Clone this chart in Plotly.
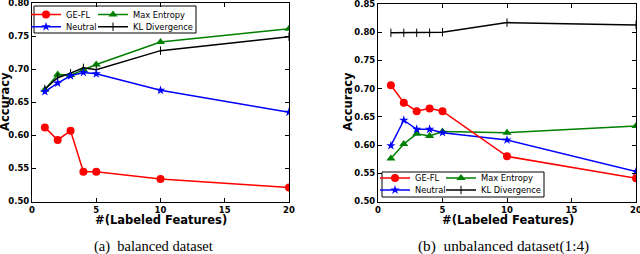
import plotly.graph_objects as go

# ---- data ----
x_vals = [1, 2, 3, 4, 5, 10, 20]

bal_gefl = [0.612, 0.593, 0.607, 0.545, 0.545, 0.534, 0.521]
bal_neutral = [0.666, 0.679, 0.690, 0.695, 0.693, 0.668, 0.635]
bal_maxent = [0.669, 0.692, 0.691, 0.699, 0.707, 0.741, 0.761]
bal_kl = [0.670, 0.687, 0.694, 0.702, 0.699, 0.728, 0.749]

unb_gefl = [0.706, 0.675, 0.660, 0.665, 0.660, 0.580, 0.541]
unb_neutral = [0.599, 0.644, 0.628, 0.628, 0.622, 0.609, 0.553]
unb_maxent = [0.576, 0.602, 0.620, 0.616, 0.624, 0.622, 0.634]
unb_kl = [0.799, 0.799, 0.799, 0.799, 0.800, 0.817, 0.813]

x_ticks = [0, 5, 10, 15, 20]
y_ticks_left = [0.50, 0.55, 0.60, 0.65, 0.70, 0.75, 0.80]
y_ticks_right = [0.50, 0.55, 0.60, 0.65, 0.70, 0.75, 0.80, 0.85]

series_names = ["GE-FL", "Max Entropy", "Neutral", "KL Divergence"]
captions = ["(a)\u00a0 balanced dataset", "(b)\u00a0 unbalanced dataset(1:4)"]
x_title = "#(Labeled Features)"
y_title = "Accuracy"

W, H = 640, 254

def px(x):
    return x / W

def py(y):
    return 1 - y / H

styles = {
    "GE-FL": dict(color="#ff0000", symbol="circle", size=8),
    "Max Entropy": dict(color="#008000", symbol="triangle-up", size=8),
    "Neutral": dict(color="#0000ff", symbol="star", size=7),
    "KL Divergence": dict(color="#000000", symbol="line-ns", size=6),
}

fig = go.Figure()

left_data = {"GE-FL": bal_gefl, "Max Entropy": bal_maxent, "Neutral": bal_neutral, "KL Divergence": bal_kl}
right_data = {"GE-FL": unb_gefl, "Max Entropy": unb_maxent, "Neutral": unb_neutral, "KL Divergence": unb_kl}

draw_order = ["Max Entropy", "KL Divergence", "Neutral", "GE-FL"]

# one legend per entry: name -> (left px, row y px)
left_cols = {"GE-FL": (26, 14.5), "Max Entropy": (93, 14.5), "Neutral": (26, 26.7), "KL Divergence": (93, 26.7)}
right_cols = {"GE-FL": (375, 178), "Max Entropy": (441, 178), "Neutral": (375, 190), "KL Divergence": (441, 190)}

leg_font = dict(family="DejaVu Sans", size=8.3, color="#000000")
legend_layout = {}
leg_idx = 0

for panel, data, xa, ya, cols in [
    (0, left_data, "x", "y", left_cols),
    (1, right_data, "x2", "y2", right_cols),
]:
    for name in draw_order:
        st = styles[name]
        mk = dict(color=st["color"], symbol=st["symbol"], size=st["size"])
        if name == "KL Divergence":
            mk["line"] = dict(color="#000000", width=1)
        else:
            mk["line"] = dict(color=st["color"], width=0)
        leg_idx += 1
        leg_id = "legend" if leg_idx == 1 else f"legend{leg_idx}"
        lx, ly = cols[name]
        legend_layout[leg_id] = dict(
            x=px(lx), y=py(ly), xanchor="left", yanchor="middle", orientation="v",
            font=leg_font, bgcolor="rgba(0,0,0,0)", borderwidth=0,
        )
        fig.add_trace(go.Scatter(
            x=x_vals, y=data[name], name=name, mode="lines+markers",
            line=dict(color=st["color"], width=1.5),
            marker=mk, xaxis=xa, yaxis=ya, legend=leg_id, showlegend=True,
        ))

axis_common = dict(
    showline=True, mirror="allticks", linecolor="#000000", linewidth=1,
    ticks="inside", ticklen=4, tickwidth=1, tickcolor="#000000",
    showgrid=False, zeroline=False, automargin=False, ticklabeloverflow="allow",
    tickfont=dict(family="DejaVu Sans", size=8.5, color="#000000", weight="bold"),
)

fig.update_layout(
    width=W, height=H, showlegend=True,
    margin=dict(l=0, r=0, t=0, b=0),
    paper_bgcolor="white", plot_bgcolor="white",
    xaxis=dict(domain=[px(32), px(289)], range=[0, 20], tickvals=x_ticks, ticktext=[str(v) for v in x_ticks],
               anchor="y", **axis_common),
    yaxis=dict(domain=[py(201.5), py(3)], range=[0.5, 0.8], tickvals=y_ticks_left,
               ticktext=[f"{v:.2f}" for v in y_ticks_left], anchor="x", **axis_common),
    xaxis2=dict(domain=[px(378), px(636)], range=[0, 20], tickvals=x_ticks, ticktext=[str(v) for v in x_ticks],
                anchor="y2", **axis_common),
    yaxis2=dict(domain=[py(201.5), py(4)], range=[0.5, 0.85], tickvals=y_ticks_right,
                ticktext=[f"{v:.2f}" for v in y_ticks_right], anchor="x2", **axis_common),
    **legend_layout,
)

# legend frames
fig.add_shape(type="rect", xref="paper", yref="paper", x0=px(34), x1=px(196), y0=py(33), y1=py(6),
              line=dict(color="#000000", width=1), fillcolor="white", layer="below")
fig.add_shape(type="rect", xref="paper", yref="paper", x0=px(382), x1=px(544), y0=py(197), y1=py(172),
              line=dict(color="#000000", width=1), fillcolor="rgba(0,0,0,0)", layer="above")

title_font = dict(family="DejaVu Sans", size=11.5, color="#000000", weight="bold")
ann = [
    dict(text=y_title, x=px(5), y=py(102), textangle=-90, font=title_font),
    dict(text=y_title, x=px(348), y=py(102), textangle=-90, font=title_font),
    dict(text=x_title, x=px(161), y=py(219.5), font=title_font),
    dict(text=x_title, x=px(507.5), y=py(219.5), font=title_font),
    dict(text=captions[0], x=px(153), y=py(246), font=dict(family="Liberation Serif", size=14.5, color="#000000")),
    dict(text=captions[1], x=px(503), y=py(246), font=dict(family="Liberation Serif", size=15.3, color="#000000")),
]
for a in ann:
    fig.add_annotation(xref="paper", yref="paper", showarrow=False,
                       xanchor="center", yanchor="middle", **a)

fig.write_html(
    "out.html",
    config={"displayModeBar": False},
    post_script="document.body.style.margin='0';document.body.style.overflow='hidden';",
)
